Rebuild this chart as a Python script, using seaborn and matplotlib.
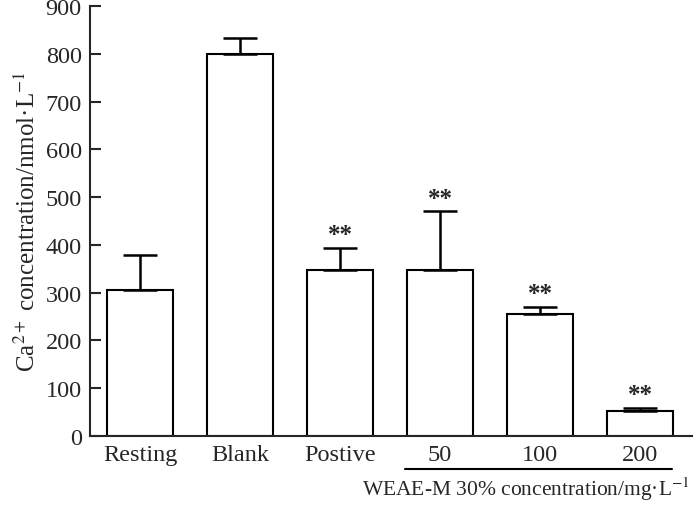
import pandas as pd
import seaborn as sns
import matplotlib.pyplot as plt

groups = ["Resting", "Blank", "Postive", "50", "100", "200"]
means = [305, 800, 347, 348, 255, 52]
sd_up = [73, 33, 46, 122, 15, 6]
stars = ["", "", "**", "**", "**", "**"]

df = pd.DataFrame({"group": groups, "ca": means})

sns.set_style("ticks")
plt.rcParams["font.family"] = ["Liberation Serif", "DejaVu Serif"]
plt.rcParams["mathtext.fontset"] = "stix"

fig = plt.figure(figsize=(7, 5.06), dpi=100)
ax = fig.add_axes([90 / 700, 69 / 506, 602 / 700, 430 / 506])

sns.barplot(data=df, x="group", y="ca", color="white", edgecolor="black",
            linewidth=1.5, width=0.66, errorbar=None, ax=ax)

# only the upper half of the error bar
ax.errorbar(range(len(groups)), means, yerr=[[0] * len(groups), sd_up],
            fmt="none", ecolor="black", elinewidth=1.8, capsize=12,
            capthick=1.8)

for i, s in enumerate(stars):
    if s:
        ax.text(i, means[i] + sd_up[i] + 4, s, ha="center", va="bottom",
                fontsize=18, fontweight="bold")

ax.set_ylim(0, 900)
ax.set_xlim(-0.5, 5.52)
ax.set_yticks(range(0, 901, 100))
ax.tick_params(axis="y", direction="in", length=8, width=1.5, labelsize=17.5, pad=6)
ax.tick_params(axis="x", length=0, labelsize=17.5, pad=6)
for sp in ["left", "bottom"]:
    ax.spines[sp].set_linewidth(1.5)
sns.despine(ax=ax)

ax.set_xlabel("")
ax.set_ylabel("Ca$^{2+}$ concentration/nmol·L$^{-1}$", fontsize=18, labelpad=4)

# bracket line under the WEAE-M doses
ax.plot([2.65, 5.32], [-69, -69], color="black", lw=1.5, clip_on=False)
ax.text(3.86, -80, "WEAE-M 30% concentration/mg·L$^{-1}$", ha="center",
        va="top", fontsize=15.5)

fig.savefig("out.png", dpi=100)
